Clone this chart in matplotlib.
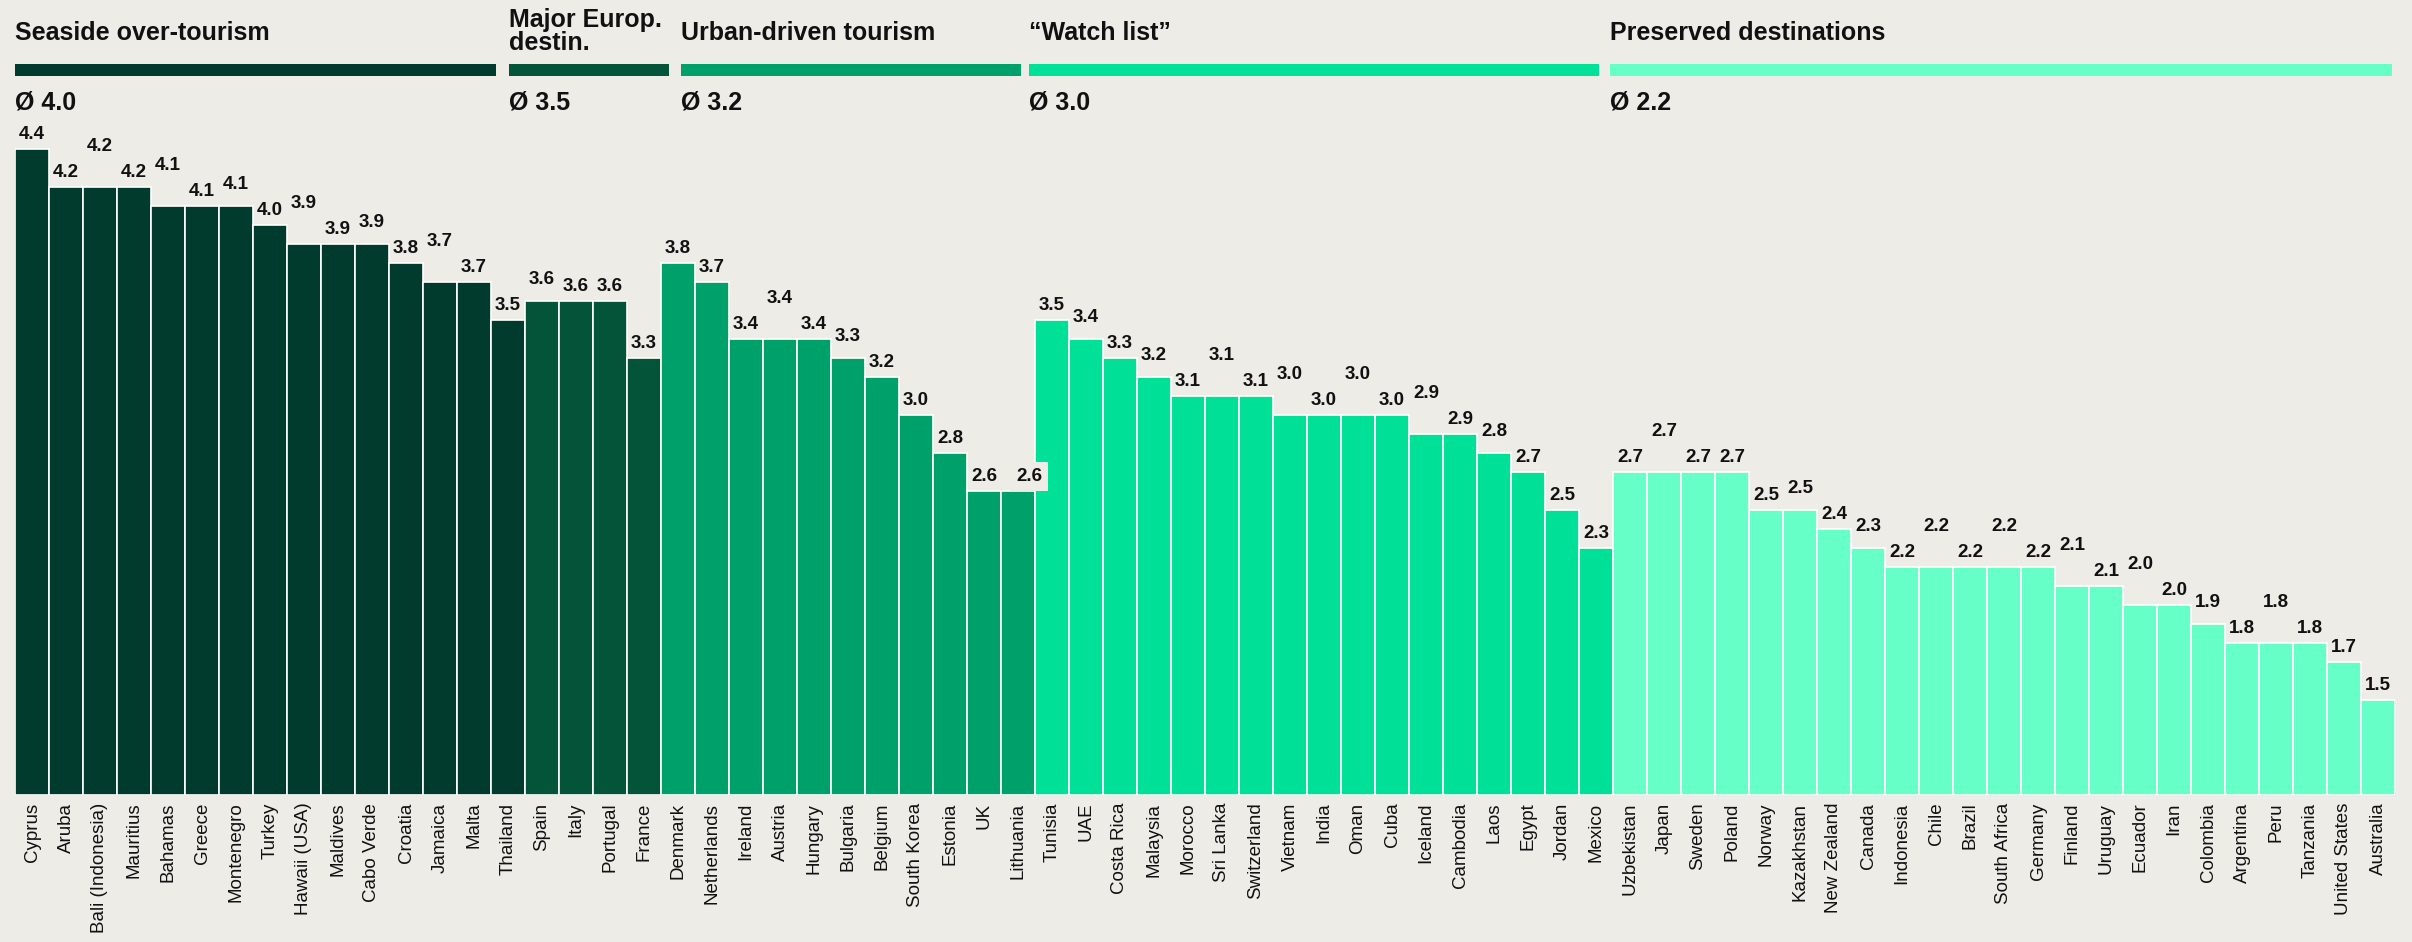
import matplotlib
matplotlib.use('Agg')
import matplotlib.pyplot as plt
import matplotlib.transforms as mtransforms
from matplotlib.patches import Rectangle

# groups (in display order)
groups = ['Seaside over-tourism', 'Major Europ.\ndestin.', 'Urban-driven tourism',
          '\u201cWatch list\u201d', 'Preserved destinations']
group_avg = [4.0, 3.5, 3.2, 3.0, 2.2]
group_colors = ['#003B2D', '#04543A', '#00A06A', '#00E096', '#66FFC8']

seaside = ['Cyprus', 'Aruba', 'Bali (Indonesia)', 'Mauritius', 'Bahamas', 'Greece', 'Montenegro',
           'Turkey', 'Hawaii (USA)', 'Maldives', 'Cabo Verde', 'Croatia', 'Jamaica', 'Malta', 'Thailand']
seaside_val = [4.4, 4.2, 4.2, 4.2, 4.1, 4.1, 4.1, 4.0, 3.9, 3.9, 3.9, 3.8, 3.7, 3.7, 3.5]

major = ['Spain', 'Italy', 'Portugal', 'France']
major_val = [3.6, 3.6, 3.6, 3.3]

urban = ['Denmark', 'Netherlands', 'Ireland', 'Austria', 'Hungary', 'Bulgaria', 'Belgium',
         'South Korea', 'Estonia', 'UK', 'Lithuania']
urban_val = [3.8, 3.7, 3.4, 3.4, 3.4, 3.3, 3.2, 3.0, 2.8, 2.6, 2.6]

watch = ['Tunisia', 'UAE', 'Costa Rica', 'Malaysia', 'Morocco', 'Sri Lanka', 'Switzerland',
         'Vietnam', 'India', 'Oman', 'Cuba', 'Iceland', 'Cambodia', 'Laos', 'Egypt', 'Jordan', 'Mexico']
watch_val = [3.5, 3.4, 3.3, 3.2, 3.1, 3.1, 3.1, 3.0, 3.0, 3.0, 3.0, 2.9, 2.9, 2.8, 2.7, 2.5, 2.3]

preserved = ['Uzbekistan', 'Japan', 'Sweden', 'Poland', 'Norway', 'Kazakhstan', 'New Zealand',
             'Canada', 'Indonesia', 'Chile', 'Brazil', 'South Africa', 'Germany', 'Finland', 'Uruguay',
             'Ecuador', 'Iran', 'Colombia', 'Argentina', 'Peru', 'Tanzania', 'United States', 'Australia']
preserved_val = [2.7, 2.7, 2.7, 2.7, 2.5, 2.5, 2.4, 2.3, 2.2, 2.2, 2.2, 2.2, 2.2, 2.1, 2.1,
                 2.0, 2.0, 1.9, 1.8, 1.8, 1.8, 1.7, 1.5]

group_countries = [seaside, major, urban, watch, preserved]
group_values = [seaside_val, major_val, urban_val, watch_val, preserved_val]

# header strip extents, in bar units (the header row is laid out loosely over the bars)
header_span = [(-0.5, 13.65), (14.03, 18.74), (19.09, 29.09), (29.32, 46.09), (46.41, 69.41)]

# label stagger level per bar (0 = just above, 1 = a bit higher, 2 = high) to avoid overlaps
lift = ('002020102010200' '1000' '00020100000'
        '01010202020201000' '02000101020202020102000')
lift_px = {'0': 10, '1': 17, '2': 36}

bg = '#EEECE7'
W, H = 2412, 942
fig = plt.figure(figsize=(W / 100, H / 100), dpi=100, facecolor=bg)

px_per_unit = 190
ax_top, ax_bot = 100, 795
ax = fig.add_axes([15 / W, 1 - ax_bot / H, 2380 / W, (ax_bot - ax_top) / H])
ax.set_facecolor(bg)

countries = []
values = []
colors = []
for c, v, col in zip(group_countries, group_values, group_colors):
    countries += c
    values += v
    colors += [col] * len(c)

x = list(range(len(countries)))
ax.bar(x, [v - 1.0 for v in values], bottom=1.0, width=1.0, color=colors,
       edgecolor='white', linewidth=1.2)
ax.set_xlim(-0.5, len(countries) - 0.5)
ax.set_ylim(1.0, 1.0 + (ax_bot - ax_top) / px_per_unit)

for s in ax.spines.values():
    s.set_visible(False)
ax.set_yticks([])
ax.set_xticks(x)
ax.set_xticklabels(countries, rotation=90, fontsize=13.5, family=['Liberation Sans', 'DejaVu Sans'],
                   color='#111111', va='top', ha='center')
ax.tick_params(axis='x', length=0, pad=5.5)

# value labels
for i, (v, name) in enumerate(zip(values, countries)):
    dy = lift_px[lift[i]] * 0.72
    dx = 0
    box = None
    if name == 'Lithuania':
        dx = 11 * 0.72
        box = dict(boxstyle='square,pad=0.3', facecolor=bg, edgecolor='none')
    ax.annotate(f'{v:.1f}', xy=(i, v), xytext=(dx, dy), textcoords='offset points',
                ha='center', va='baseline', fontsize=13.5, fontweight='bold',
                family=['Liberation Sans', 'DejaVu Sans'], color='#111111', bbox=box,
                annotation_clip=False)

# group headers
tr = mtransforms.blended_transform_factory(ax.transData, fig.transFigure)
for name, avg, col, (x0, x1) in zip(groups, group_avg, group_colors, header_span):
    base = 40 if '\n' not in name else 50
    fig.text(x0, 1 - base / H, name, transform=tr, ha='left', va='baseline', fontsize=18,
             fontweight='bold', family=['Liberation Sans', 'DejaVu Sans'], color='#111111',
             linespacing=0.95)
    fig.patches.append(Rectangle((x0, 1 - 76 / H), x1 - x0, 12 / H, transform=tr,
                                 facecolor=col, edgecolor='none'))
    fig.text(x0, 1 - 110 / H, f'\u00d8 {avg:.1f}', transform=tr, ha='left', va='baseline',
             fontsize=18, fontweight='bold', family=['Liberation Sans', 'DejaVu Sans'],
             color='#111111')

fig.savefig('out.png', dpi=100, facecolor=bg)
